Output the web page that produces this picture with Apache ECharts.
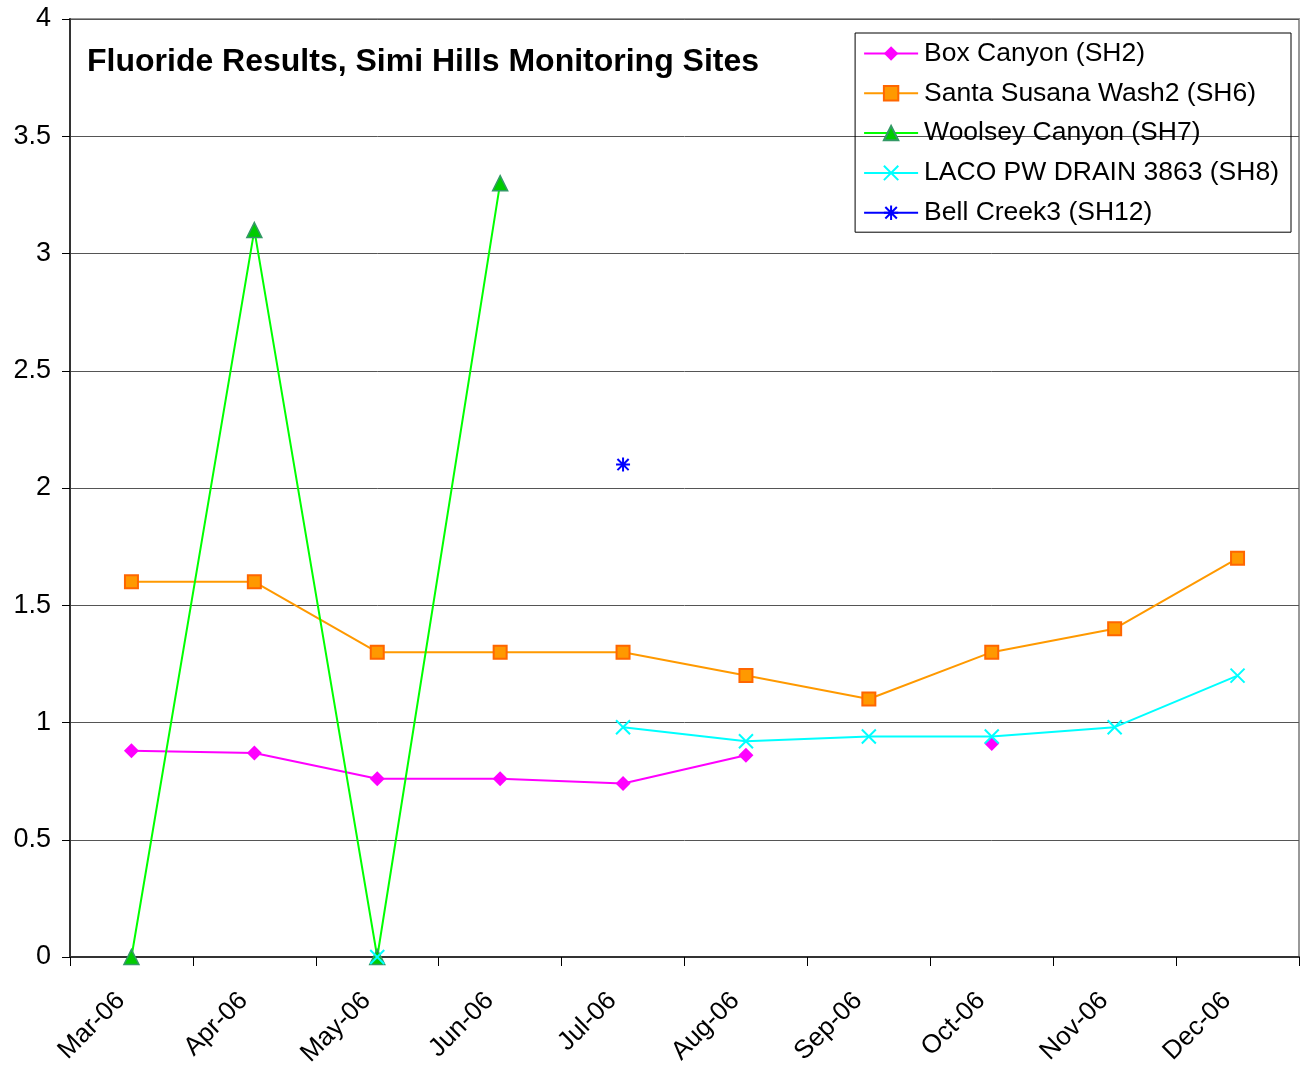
<!DOCTYPE html>
<html>
<head>
<meta charset="utf-8">
<script src="https://cdn.jsdelivr.net/npm/echarts@6/dist/echarts.min.js"></script>
<style>
    html, body { margin: 0; padding: 0; background: #fff; }
    #chart { width: 1310px; height: 1078px; }
</style>
</head>
<body>
<div id="chart"></div>
<script>
// months on the x axis
const months = ['Mar-06', 'Apr-06', 'May-06', 'Jun-06', 'Jul-06', 'Aug-06', 'Sep-06', 'Oct-06', 'Nov-06', 'Dec-06'];

// fluoride values per site (null = no sample)
const boxCanyon = [0.88, 0.87, 0.76, 0.76, 0.74, 0.86, null, 0.91, null, null];
const santaSusana = [1.6, 1.6, 1.3, 1.3, 1.3, 1.2, 1.1, 1.3, 1.4, 1.7];
const woolsey = [0, 3.1, 0, 3.3, null, null, null, null, null, null];
const lacoDrain = [null, null, 0, null, 0.98, 0.92, 0.94, 0.94, 0.98, 1.2];
const bellCreek = [null, null, null, null, 2.1, null, null, null, null, null];

const font = 'Arial, "Liberation Sans", sans-serif';
const crossPath = 'path://M0,0L10,10M10,0L0,10';
const starPath = 'path://M5,0L5,10M0,5L10,5M1,1L9,9M9,1L1,9';

const myEcharts = echarts.init(document.getElementById('chart'));
const option = {
    animation: false,
    textStyle: { fontFamily: font },
    title: {
        text: 'Fluoride Results, Simi Hills Monitoring Sites',
        left: 82,
        top: 41,
        textStyle: { fontSize: 32, fontWeight: 'bold', color: '#000', fontFamily: font }
    },
    legend: {
        orient: 'vertical',
        right: 19,
        top: 33,
        padding: [7, 12, 6, 8],
        itemGap: 12.8,
        itemWidth: 54,
        itemHeight: 18,
        borderColor: '#000',
        borderWidth: 1,
        textStyle: { fontSize: 26.5, color: '#000', fontFamily: font, padding: [0, 0, 0, 1] },
        data: ['Box Canyon (SH2)', 'Santa Susana Wash2 (SH6)', 'Woolsey Canyon (SH7)', 'LACO PW DRAIN 3863 (SH8)', 'Bell Creek3 (SH12)']
    },
    grid: {
        left: 70,
        right: 11,
        top: 19,
        bottom: 121,
        show: true,
        borderColor: '#999',
        borderWidth: 2
    },
    xAxis: {
        type: 'category',
        boundaryGap: true,
        data: months,
        axisLine: { lineStyle: { color: '#333', width: 2 } },
        axisTick: { show: true, length: 9, lineStyle: { color: '#000' } },
        axisLabel: { rotate: 45, fontSize: 26, color: '#000', margin: 29, padding: [0, 15, 0, 0], interval: 0 }
    },
    yAxis: {
        type: 'value',
        min: 0,
        max: 4,
        interval: 0.5,
        axisLine: { show: true, lineStyle: { color: '#333', width: 2 } },
        axisTick: { show: true, length: 8, lineStyle: { color: '#000' } },
        axisLabel: { fontSize: 27, color: '#000', margin: 19 },
        splitLine: { lineStyle: { color: '#555', width: 1 } }
    },
    series: [
        {
            name: 'Box Canyon (SH2)',
            type: 'line',
            data: boxCanyon,
            symbol: 'diamond',
            symbolSize: 15,
            showAllSymbol: true,
            lineStyle: { color: '#ff00ff', width: 2 },
            itemStyle: { color: '#ff00ff', borderWidth: 0 }
        },
        {
            name: 'Santa Susana Wash2 (SH6)',
            type: 'line',
            data: santaSusana,
            symbol: 'rect',
            symbolSize: 13,
            showAllSymbol: true,
            lineStyle: { color: '#ff9900', width: 2 },
            itemStyle: { color: '#ff9900', borderColor: '#ff6600', borderWidth: 2 }
        },
        {
            name: 'Woolsey Canyon (SH7)',
            type: 'line',
            data: woolsey,
            symbol: 'triangle',
            symbolSize: 15,
            showAllSymbol: true,
            lineStyle: { color: '#00ff00', width: 2 },
            itemStyle: { color: '#00cc00', borderColor: '#339966', borderWidth: 1.5 }
        },
        {
            name: 'LACO PW DRAIN 3863 (SH8)',
            type: 'line',
            data: lacoDrain,
            symbol: crossPath,
            symbolSize: 14,
            showAllSymbol: true,
            lineStyle: { color: '#00ffff', width: 2 },
            itemStyle: { color: 'none', borderColor: '#00ffff', borderWidth: 2 }
        },
        {
            name: 'Bell Creek3 (SH12)',
            type: 'line',
            data: bellCreek,
            symbol: starPath,
            symbolSize: 14,
            showAllSymbol: true,
            lineStyle: { color: '#0000ff', width: 2 },
            itemStyle: { color: 'none', borderColor: '#0000ff', borderWidth: 2 }
        }
    ]
};
myEcharts.setOption(option);
</script>
</body>
</html>
